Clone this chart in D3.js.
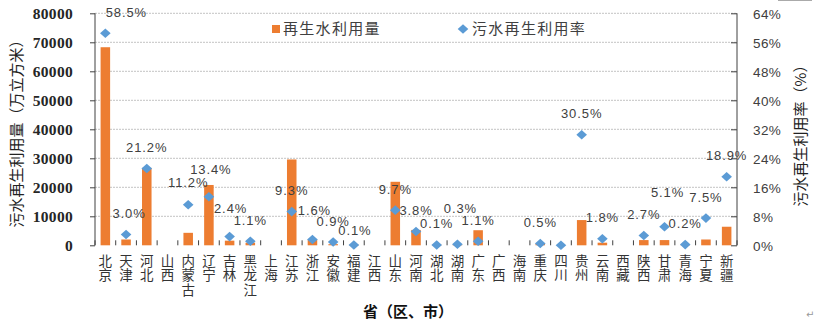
<!DOCTYPE html>
<html>
<head>
<meta charset="utf-8">
<script src="https://cdn.jsdelivr.net/npm/d3@7/dist/d3.min.js"></script>
<style>
  html, body { margin: 0; padding: 0; background: #fff; }
  svg { display: block; }
</style>
</head>
<body>
<svg id="chart" width="818" height="331"></svg>
<script>
// Provinces (regions, municipalities)
const provinces = ["北京","天津","河北","山西","内蒙古","辽宁","吉林","黑龙江","上海","江苏","浙江","安徽","福建","江西","山东","河南","湖北","湖南","广东","广西","海南","重庆","四川","贵州","云南","西藏","陕西","甘肃","青海","宁夏","新疆"];

// Reclaimed water use (10k m³)
const reuseVolume = [68300, 2000, 26700, 0, 4300, 20800, 1600, 900, 0, 29600, 2000, 400, 200, 0, 21900, 5300, 200, 300, 5200, 0, 0, 500, 0, 8700, 900, 0, 1800, 1800, 100, 2000, 6400];

// Wastewater reuse rate (%), null = no point
const reuseRate = [58.5, 3.0, 21.2, null, 11.2, 13.4, 2.4, 1.1, null, 9.3, 1.6, 0.9, 0.1, null, 9.7, 3.8, 0.1, 0.3, 1.1, null, null, 0.5, 0.0, 30.5, 1.8, null, 2.7, 5.1, 0.2, 7.5, 18.9];

// Axis ticks
const volumeTicks = [0, 10000, 20000, 30000, 40000, 50000, 60000, 70000, 80000];
const rateTicks = [0, 8, 16, 24, 32, 40, 48, 56, 64];

const seriesNames = ["再生水利用量", "污水再生利用率"];
const yTitleLeft = "污水再生利用量（万立方米）";
const yTitleRight = "污水再生利用率（%）";
const xTitle = "省（区、市）";

// Hand-placed offsets for crowded percentage labels [dx, dy]
const labelNudge = {
  "北京": [21, 0], "天津": [3, 0], "内蒙古": [0, -1], "辽宁": [2, -6],
  "吉林": [1, -7], "浙江": [2, -8], "福建": [1, 7], "湖南": [3, -15], "甘肃": [3, -13]
};

const ORANGE = "#ED7D31", BLUE = "#5B9BD5";
const CJK = "'Noto Sans CJK SC', 'Noto Sans', sans-serif";

const svg = d3.select("#chart");
const plot = { left: 95, right: 737, top: 13.3, bottom: 245.3 };

const x = d3.scaleBand().domain(provinces).range([plot.left, plot.right]).paddingInner(0).paddingOuter(0);
const yL = d3.scaleLinear().domain([0, 80000]).range([plot.bottom, plot.top]);
const yR = d3.scaleLinear().domain([0, 64]).range([plot.bottom, plot.top]);

svg.append("rect").attr("width", 818).attr("height", 331).attr("fill", "#fff");

// Gridlines
svg.append("g").selectAll("line").data(volumeTicks.slice(1)).join("line")
  .attr("x1", plot.left).attr("x2", plot.right)
  .attr("y1", d => yL(d)).attr("y2", d => yL(d))
  .attr("stroke", "#c4c4c4").attr("stroke-width", 1).attr("stroke-dasharray", "2,1");

// Left axis
const axL = svg.append("g").attr("transform", `translate(${plot.left},0)`)
  .call(d3.axisLeft(yL).tickValues(volumeTicks).tickSize(5).tickPadding(17).tickFormat(d3.format("d")));
axL.select(".domain").attr("stroke", "#404040").attr("d", `M0,${plot.top}V${plot.bottom}`);
axL.selectAll(".tick line").attr("stroke", "#404040");
axL.selectAll("text").attr("font-family", "'Liberation Serif', serif").attr("font-weight", "bold")
  .attr("font-size", 15.5).attr("fill", "#262626").attr("dy", "0.36em").attr("letter-spacing", 0.3);

// Right axis (ticks drawn inward)
const axR = svg.append("g").attr("transform", `translate(${plot.right},0)`)
  .call(d3.axisRight(yR).tickValues(rateTicks).tickSize(-6).tickPadding(16).tickFormat(d => d + "%"));
axR.select(".domain").attr("stroke", "#404040").attr("d", `M0,${plot.top}V${plot.bottom}`);
axR.selectAll(".tick line").attr("stroke", "#404040");
axR.selectAll("text").attr("font-family", "'Liberation Sans', sans-serif")
  .attr("font-size", 13.5).attr("letter-spacing", 0.4).attr("fill", "#404040").attr("dy", "0.36em");

// Category separators on the x axis
const bounds = d3.range(provinces.length + 1).map(i => plot.left + i * x.bandwidth());
svg.append("g").selectAll("line").data(bounds).join("line")
  .attr("x1", d => d).attr("x2", d => d)
  .attr("y1", plot.bottom - 5).attr("y2", plot.bottom)
  .attr("stroke", "#404040").attr("stroke-width", 1);

// Bars
const barW = x.bandwidth() * 0.46;
svg.append("g").selectAll("rect").data(provinces.map((p, i) => ({ p, v: reuseVolume[i] })).filter(d => d.v > 0))
  .join("rect")
  .attr("x", d => x(d.p) + x.bandwidth() / 2 - barW / 2)
  .attr("width", barW)
  .attr("y", d => yL(d.v))
  .attr("height", d => yL(0) - yL(d.v))
  .attr("fill", ORANGE);

// Diamond markers
const diamond = "M0,-4.8L5.3,0L0,4.8L-5.3,0Z";
const pts = provinces.map((p, i) => ({ p, r: reuseRate[i] })).filter(d => d.r !== null);
svg.append("g").selectAll("path").data(pts).join("path")
  .attr("d", diamond)
  .attr("transform", d => `translate(${x(d.p) + x.bandwidth() / 2},${yR(d.r)})`)
  .attr("fill", BLUE);

// Percentage labels (0.0% values left unlabeled)
svg.append("g").selectAll("text").data(pts.filter(d => d.r > 0)).join("text")
  .attr("x", d => x(d.p) + x.bandwidth() / 2 + (labelNudge[d.p] ? labelNudge[d.p][0] : 0))
  .attr("y", d => yR(d.r) - 16.5 + (labelNudge[d.p] ? labelNudge[d.p][1] : 0))
  .attr("text-anchor", "middle")
  .attr("font-family", "'Liberation Sans', sans-serif").attr("font-size", 13).attr("letter-spacing", 0.9)
  .attr("fill", "#404040")
  .text(d => d.r.toFixed(1) + "%");

// Vertical category labels (top-to-bottom writing mode)
svg.append("g").selectAll("text").data(provinces).join("text")
  .attr("x", d => x(d) + x.bandwidth() / 2)
  .attr("y", 254)
  .style("writing-mode", "vertical-rl")
  .attr("text-anchor", "start")
  .attr("font-family", CJK).attr("font-size", 13.5).attr("letter-spacing", 1)
  .attr("fill", "#333")
  .text(d => d);

// Axis titles
svg.append("text").attr("transform", "translate(22,130) rotate(-90)")
  .attr("text-anchor", "middle").attr("font-family", CJK).attr("font-size", 15)
  .attr("fill", "#222").text(yTitleLeft);
svg.append("text").attr("transform", "translate(806,132) rotate(-90)")
  .attr("text-anchor", "middle").attr("font-family", CJK).attr("font-size", 15)
  .attr("fill", "#222").text(yTitleRight);
svg.append("text").attr("x", 408).attr("y", 317)
  .attr("text-anchor", "middle").attr("font-family", CJK).attr("font-size", 15).attr("font-weight", "bold")
  .attr("fill", "#111").text(xTitle);

// Legend
const lg = svg.append("g").attr("font-family", CJK).attr("font-size", 15).attr("fill", "#404040");
lg.append("rect").attr("x", 272).attr("y", 25).attr("width", 8).attr("height", 8).attr("fill", ORANGE);
lg.append("text").attr("x", 283).attr("y", 34).attr("letter-spacing", 1.3).text(seriesNames[0]);
lg.append("path").attr("d", diamond).attr("transform", "translate(463,29)").attr("fill", BLUE);
lg.append("text").attr("x", 472).attr("y", 34).attr("letter-spacing", 1.3).text(seriesNames[1]);

// Paragraph mark and page edge
svg.append("text").attr("x", 806).attr("y", 318).attr("font-family", "'DejaVu Sans', sans-serif")
  .attr("font-size", 10).attr("fill", "#999").text("↵");
svg.append("line").attr("x1", 778).attr("x2", 812).attr("y1", 0.5).attr("y2", 0.5)
  .attr("stroke", "#aaa").attr("stroke-width", 1);
</script>
</body>
</html>
